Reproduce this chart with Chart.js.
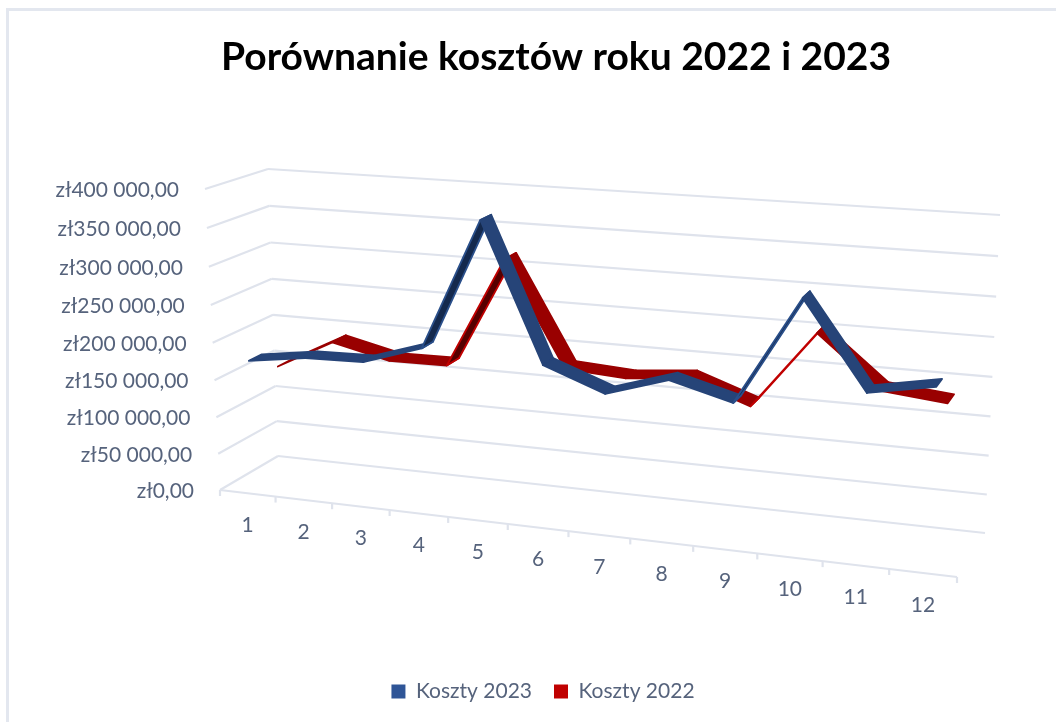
<!DOCTYPE html>
<html><head><meta charset="utf-8">
<style>html,body{margin:0;padding:0;background:#fff;overflow:hidden}#wrap{position:absolute;left:6px;top:8px;width:1050px;height:714px;box-sizing:border-box;border-left:3px solid #e3e7ef;border-top:3px solid #e3e7ef}canvas{position:absolute;left:0;top:0;filter:blur(0.45px)}</style>
<script src="https://cdn.jsdelivr.net/npm/chart.js@4"></script>
</head><body><div id="wrap"></div><canvas id="c" width="1056" height="722"></canvas>
<script>
const categories=['1','2','3','4','5','6','7','8','9','10','11','12'];
const costs2023=[175000,186000,188000,213000,382000,206000,177000,202000,181000,317000,209000,224000];
const costs2022=[148000,188000,170000,171000,317000,181000,176000,183000,155000,255000,190000,182000];
const yMin=0,yMax=400000,yStep=50000;
const seriesNames=['Koszty 2023','Koszty 2022'];
const depthBands=[[0.12,0.34],[0.60,0.84]];

// 3-D frame of the chart (screen corners of the front and back planes)
const front=[[220,490],[957,577],[977,244],[205,189]];
const back=[[278,456],[985,533],[1000,215],[268,169]];
function homography(q){ // unit square -> quad
  const [x0,y0]=q[0],[x1,y1]=q[1],[x2,y2]=q[2],[x3,y3]=q[3];
  const dx1=x1-x2,dx2=x3-x2,dx3=x0-x1+x2-x3,dy1=y1-y2,dy2=y3-y2,dy3=y0-y1+y2-y3;
  const den=dx1*dy2-dx2*dy1;
  const g=(dx3*dy2-dx2*dy3)/den,h=(dx1*dy3-dx3*dy1)/den;
  const a=x1-x0+g*x1,b=x3-x0+h*x3,d=y1-y0+g*y1,e=y3-y0+h*y3;
  return (u,v)=>{const w=g*u+h*v+1;return [(a*u+b*v+x0)/w,(d*u+e*v+y0)/w];};
}
const hF=homography(front),hB=homography(back);
function proj(u,v,d){const f=hF(u,v),b=hB(u,v);return [f[0]+(b[0]-f[0])*d,f[1]+(b[1]-f[1])*d];}

const gridColor='#dfe3ec',textColor='#56637c',font='21px Lato';
const frame3d={id:'frame3d',
  afterLayout(ch){ch.titleBlock.left+=13;ch.titleBlock.right+=13;},
  beforeDatasetsDraw(ch){
    const c=ch.ctx,ya=ch.scales.y,xa=ch.scales.x;
    const vOf=t=>(t-yMin)/(yMax-yMin);
    const line=(p,q)=>{c.beginPath();c.moveTo(p[0],p[1]);c.lineTo(q[0],q[1]);c.stroke();};
    c.save();c.strokeStyle=gridColor;c.lineWidth=2.2;c.lineCap='butt';
    ya.ticks.forEach(t=>{const v=vOf(t.value);line(proj(0,v,0),proj(0,v,1));line(proj(0,v,1),proj(1,v,1));});
    line(proj(0,0,0),proj(1,0,0));
    const n=categories.length;
    for(let i=0;i<=n;i++){const p=proj(i/n,0,0);line(p,[p[0],p[1]+6]);}
    c.fillStyle=textColor;c.font=font;c.textBaseline='middle';
    c.textAlign='right';
    ya.ticks.forEach(t=>{const p=proj(0,vOf(t.value),0);c.fillText(t.label,p[0]-26,p[1]+1);});
    c.textAlign='center';
    xa.ticks.forEach((t,i)=>{const p=proj((i+0.5)/n,0,0);c.fillText(categories[i],p[0],p[1]+32);});
    c.restore();
  },
  beforeDatasetDraw(ch,args){
    const c=ch.ctx,a=ch.chartArea,ds=ch.data.datasets[args.index];
    const pts=args.meta.data,[d1,d2]=depthBands[args.index];
    const uv=e=>[(e.x-a.left)/(a.right-a.left),(a.bottom-e.y)/(a.bottom-a.top)];
    c.save();c.lineJoin='round';
    for(let i=0;i<pts.length-1;i++){
      const [u0,v0]=uv(pts[i]),[u1,v1]=uv(pts[i+1]);
      const A=proj(u0,v0,d1),B=proj(u1,v1,d1),C=proj(u1,v1,d2),D=proj(u0,v0,d2);
      const cross=(B[0]-A[0])*(D[1]-A[1])-(B[1]-A[1])*(D[0]-A[0]);
      c.beginPath();c.moveTo(A[0],A[1]);c.lineTo(B[0],B[1]);c.lineTo(C[0],C[1]);c.lineTo(D[0],D[1]);c.closePath();
      c.fillStyle=cross<0?ds.topColor:ds.underColor;
      c.strokeStyle=cross<0?ds.topColor:ds.edgeColor;c.lineWidth=1.8;
      c.fill();c.stroke();
    }
    c.restore();
    return false;
  }
};

new Chart(document.getElementById('c'),{
  type:'line',
  data:{labels:categories,datasets:[
    {label:seriesNames[0],data:costs2023,backgroundColor:'#2f5597',borderColor:'#2f5597',borderWidth:0,topColor:'#264478',underColor:'#14294d',edgeColor:'#2a4f8a',order:0},
    {label:seriesNames[1],data:costs2022,backgroundColor:'#c00000',borderColor:'#c00000',borderWidth:0,topColor:'#990000',underColor:'#560000',edgeColor:'#c00000',order:1}
  ]},
  options:{
    responsive:false,animation:false,
    layout:{padding:{left:30,top:0,bottom:10}},
    elements:{point:{radius:0}},
    scales:{
      x:{type:'category',display:false,offset:true},
      y:{type:'linear',display:false,min:yMin,max:yMax,ticks:{stepSize:yStep,
        callback:v=>'zł'+(v===0?'0':String(v).replace(/\B(?=(\d{3})+$)/g,' '))+',00'}}
    },
    plugins:{
      title:{display:true,text:'Porównanie kosztów roku 2022 i 2023',color:'#000',font:{family:'Lato',size:39,weight:'bold'},padding:{top:34,bottom:10}},
      legend:{position:'bottom',labels:{color:textColor,font:{family:'Lato',size:21},boxWidth:14,boxHeight:14,padding:22}},
      tooltip:{enabled:false}
    }
  },
  plugins:[frame3d]
});
</script></body></html>
